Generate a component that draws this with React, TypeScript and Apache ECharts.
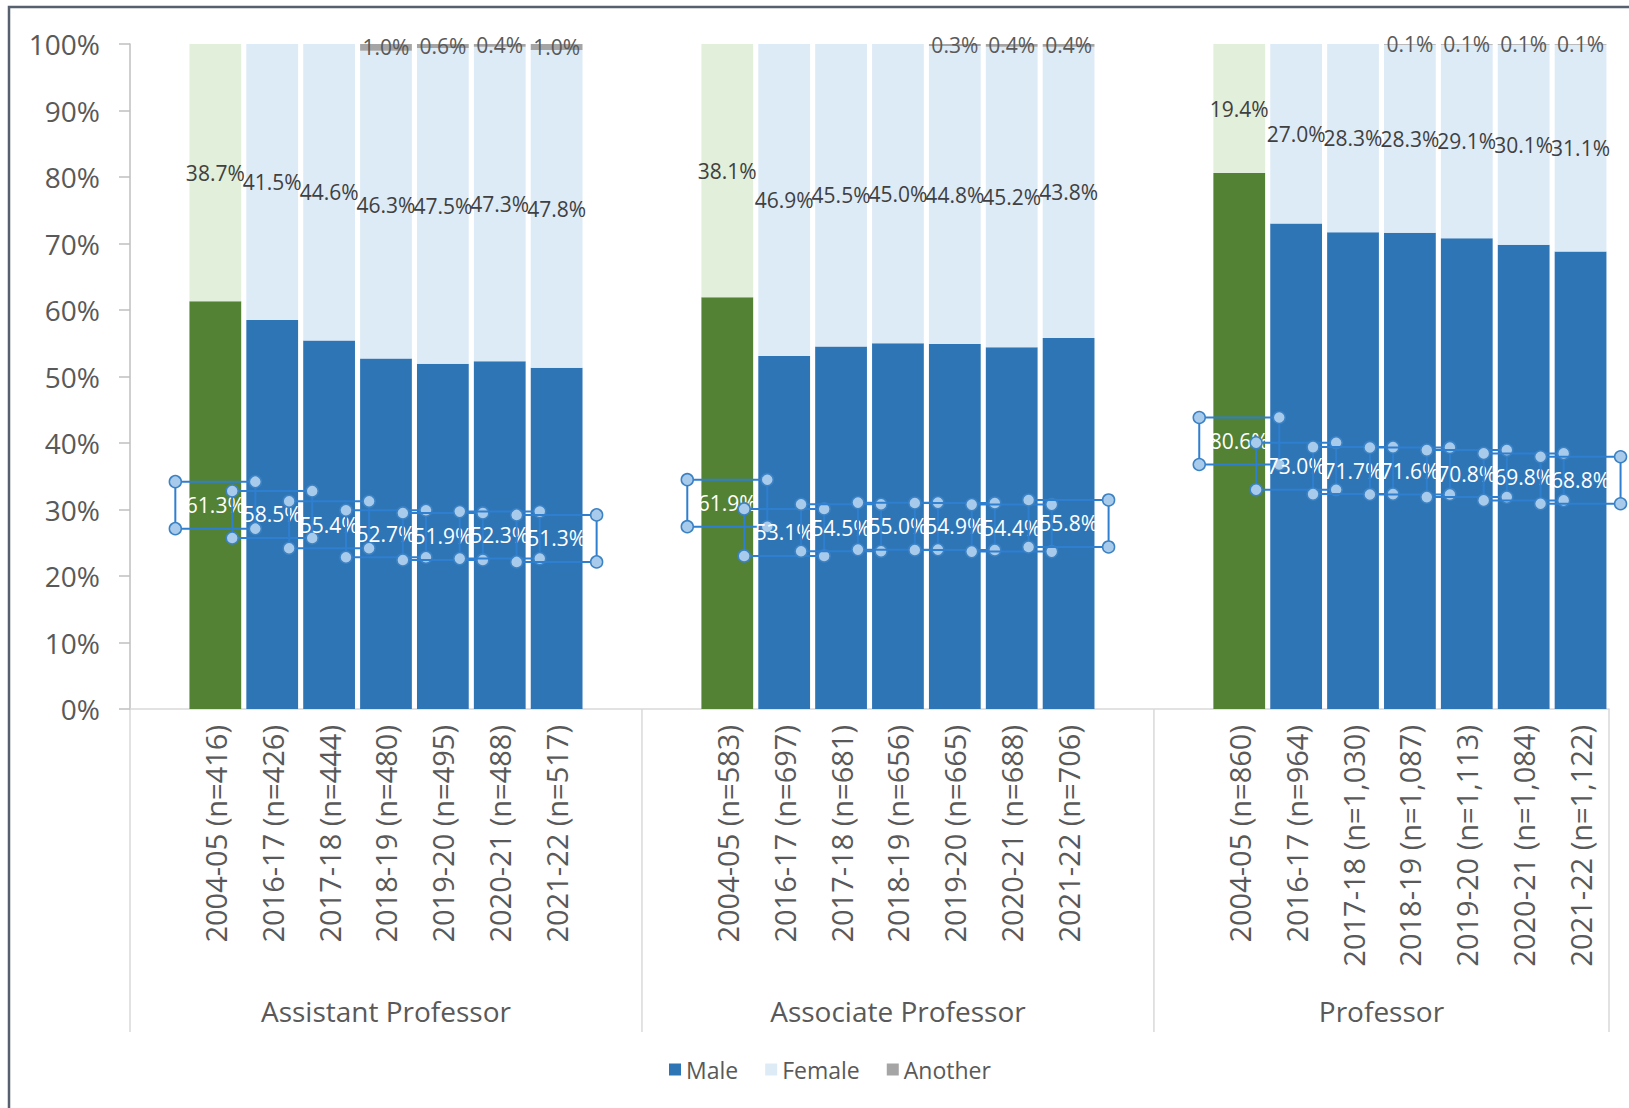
import React, { useEffect, useRef } from "react";
import * as echarts from "echarts";

// Academic ranks shown as groups along the category axis
const ranks = ["Assistant Professor", "Associate Professor", "Professor"];
const years = ["2004-05", "2016-17", "2017-18", "2018-19", "2019-20", "2020-21", "2021-22"];

// Headcounts per year, one list per rank
const assistantN = ["416", "426", "444", "480", "495", "488", "517"];
const associateN = ["583", "697", "681", "656", "665", "688", "706"];
const professorN = ["860", "964", "1,030", "1,087", "1,113", "1,084", "1,122"];

// Shares (%) by gender, per rank
const assistantMale = [61.3, 58.5, 55.4, 52.7, 51.9, 52.3, 51.3];
const assistantFemale = [38.7, 41.5, 44.6, 46.3, 47.5, 47.3, 47.8];
const assistantAnother = [0, 0, 0, 1.0, 0.6, 0.4, 1.0];

const associateMale = [61.9, 53.1, 54.5, 55.0, 54.9, 54.4, 55.8];
const associateFemale = [38.1, 46.9, 45.5, 45.0, 44.8, 45.2, 43.8];
const associateAnother = [0, 0, 0, 0, 0.3, 0.4, 0.4];

const professorMale = [80.6, 73.0, 71.7, 71.6, 70.8, 69.8, 68.8];
const professorFemale = [19.4, 27.0, 28.3, 28.3, 29.1, 30.1, 31.1];
const professorAnother = [0, 0, 0, 0.1, 0.1, 0.1, 0.1];

const yTicks = [0, 10, 20, 30, 40, 50, 60, 70, 80, 90, 100];

const FONT = "'Open Sans', 'Noto Sans', sans-serif";
const MALE = "#2e75b6";
const FEMALE = "#ddebf7";
const ANOTHER = "#a5a5a5";
const BASE_MALE = "#548235";
const BASE_FEMALE = "#e2efda";
const TEXT = "#595959";

type Slot = { label: string; male: number | null; female: number | null; another: number | null; base: boolean };

function buildSlots() {
  const nLists = [assistantN, associateN, professorN];
  const males = [assistantMale, associateMale, professorMale];
  const females = [assistantFemale, associateFemale, professorFemale];
  const others = [assistantAnother, associateAnother, professorAnother];
  const slots: Slot[] = [];
  const groupStart: number[] = [];
  const blank = (): Slot => ({ label: "", male: null, female: null, another: null, base: false });
  ranks.forEach((_, g) => {
    groupStart.push(slots.length);
    slots.push(blank());
    years.forEach((y, i) => {
      slots.push({
        label: `${y} (n=${nLists[g][i]})`,
        male: males[g][i],
        female: females[g][i],
        another: others[g][i],
        base: i === 0,
      });
    });
    if (g < ranks.length - 1) slots.push(blank());
  });
  return { slots, groupStart };
}

export default function App() {
  const ref = useRef<HTMLDivElement>(null);

  useEffect(() => {
    if (!ref.current) return;
    const chart = echarts.init(ref.current, null, { renderer: "svg" });
    const { slots, groupStart } = buildSlots();

    const pct = (v: number) => `${v.toFixed(1)}%`;

    const option: any = {
      animation: false,
      textStyle: { fontFamily: FONT },
      grid: { left: 130, right: 20, top: 44, bottom: 399, containLabel: false },
      legend: {
        data: ["Male", "Female", "Another"],
        left: 664,
        top: 1053,
        icon: "rect",
        itemWidth: 12,
        itemHeight: 12,
        itemGap: 27,
        textStyle: { fontSize: 23, color: TEXT, fontFamily: FONT },
      },
      xAxis: {
        type: "category",
        data: slots.map((s) => s.label),
        axisLine: { lineStyle: { color: "#d9d9d9", width: 1.5 } },
        axisTick: { show: false },
        axisLabel: {
          interval: 0,
          rotate: 90,
          margin: 16,
          fontSize: 29,
          color: TEXT,
          fontFamily: FONT,
        },
      },
      yAxis: {
        type: "value",
        min: yTicks[0],
        max: yTicks[yTicks.length - 1],
        interval: yTicks[1] - yTicks[0],
        axisLine: { show: true, lineStyle: { color: "#bfbfbf", width: 1.5 } },
        axisTick: { show: true, length: 11, lineStyle: { color: "#bfbfbf", width: 1.5 } },
        splitLine: { show: false },
        axisLabel: { formatter: "{value}%", fontSize: 28, color: TEXT, margin: 30, fontFamily: FONT },
      },
      series: [
        {
          name: "Male",
          type: "bar",
          stack: "total",
          barCategoryGap: "9%",
          color: MALE,
          data: slots.map((s) =>
            s.male == null ? null : { value: s.male, itemStyle: { color: s.base ? BASE_MALE : MALE } }
          ),
        },
        {
          name: "Female",
          type: "bar",
          stack: "total",
          color: FEMALE,
          data: slots.map((s) =>
            s.female == null ? null : { value: s.female, itemStyle: { color: s.base ? BASE_FEMALE : FEMALE } }
          ),
          label: {
            show: true,
            position: "inside",
            fontSize: 21,
            color: "#404040",
            fontFamily: FONT,
            formatter: (p: any) => pct(p.value),
          },
        },
        {
          name: "Another",
          type: "bar",
          stack: "total",
          color: ANOTHER,
          data: slots.map((s) => s.another),
          label: {
            show: true,
            position: "inside",
            fontSize: 21,
            color: TEXT,
            fontFamily: FONT,
            formatter: (p: any) => (p.value ? pct(p.value) : ""),
          },
        },
        {
          // Male share labels with their outlined label boxes and corner handles
          name: "MaleLabels",
          type: "custom",
          z: 5,
          silent: true,
          data: slots
            .map((s, i) => (s.male == null ? null : [i, s.male]))
            .filter((d) => d != null),
          renderItem: (_params: any, api: any) => {
            const v = api.value(1);
            const p = api.coord([api.value(0), v / 2]);
            const w = 80;
            const h = 47;
            const x0 = p[0] - w / 2;
            const y0 = p[1] - h / 2;
            const handle = (cx: number, cy: number) => ({
              type: "circle",
              shape: { cx, cy, r: 6 },
              style: { fill: "#a9cbeb", stroke: "#3b82c4", lineWidth: 1.5 },
            });
            return {
              type: "group",
              children: [
                {
                  type: "text",
                  style: {
                    text: pct(v),
                    x: p[0],
                    y: p[1],
                    align: "center",
                    verticalAlign: "middle",
                    fill: "#ffffff",
                    fontSize: 21,
                    fontFamily: FONT,
                  },
                },
                {
                  type: "rect",
                  shape: { x: x0, y: y0, width: w, height: h },
                  style: { fill: "none", stroke: "#2f7fd0", lineWidth: 2 },
                },
                handle(x0, y0),
                handle(x0 + w, y0),
                handle(x0, y0 + h),
                handle(x0 + w, y0 + h),
              ],
            };
          },
        },
      ],
    };

    chart.setOption(option);

    // Group separators and rank names beneath the year labels, placed on the axis scale
    const xAt = (i: number) => chart.convertToPixel({ xAxisIndex: 0 }, i) as number;
    const slotW = xAt(1) - xAt(0);
    const yBase = chart.convertToPixel({ yAxisIndex: 0 }, 0) as number;
    const bounds = [...groupStart.map((i) => xAt(i) - slotW / 2), xAt(slots.length - 1) + slotW / 2];
    const graphics: any[] = [
      {
        type: "rect",
        shape: { x: 9, y: 7, width: 2000, height: 2000 },
        style: { fill: "none", stroke: "#56606e", lineWidth: 2.5 },
        silent: true,
      },
    ];
    bounds.forEach((bx) => {
      graphics.push({
        type: "line",
        shape: { x1: bx, y1: yBase, x2: bx, y2: yBase + 323 },
        style: { stroke: "#d9d9d9", lineWidth: 1.5 },
        silent: true,
      });
    });
    ranks.forEach((r, g) => {
      graphics.push({
        type: "text",
        x: (bounds[g] + bounds[g + 1]) / 2,
        y: yBase + 302,
        style: {
          text: r,
          align: "center",
          verticalAlign: "middle",
          fontSize: 28,
          fill: TEXT,
          fontFamily: FONT,
        },
        silent: true,
      });
    });
    chart.setOption({ graphic: graphics });

    return () => chart.dispose();
  }, []);

  return (
    <div
      ref={ref}
      style={{ position: "fixed", left: 0, top: 0, width: 1629, height: 1108, background: "#ffffff" }}
    />
  );
}
